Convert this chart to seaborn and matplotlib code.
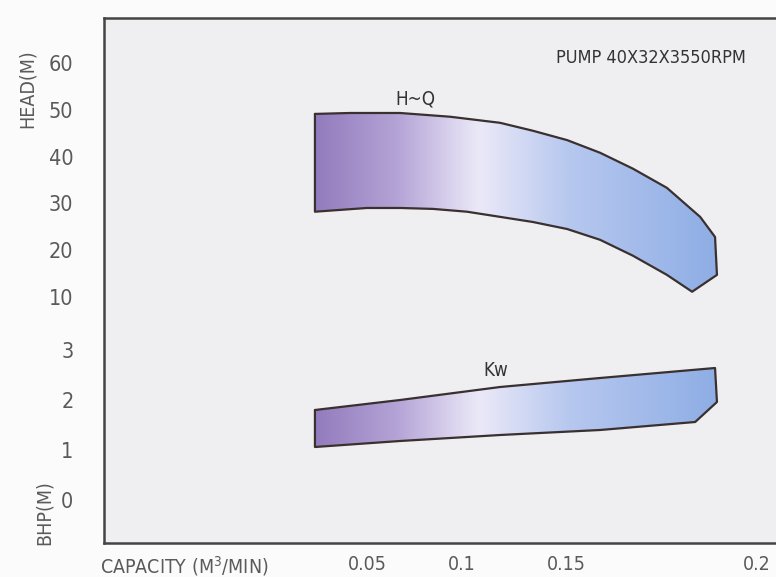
import numpy as np
import pandas as pd
import seaborn as sns
import matplotlib.pyplot as plt
from matplotlib.colors import LinearSegmentedColormap
from matplotlib.patches import Polygon

# H~Q band (capacity m3/min, head m)
hq_top_q = [0.0226, 0.0411, 0.0674, 0.0937, 0.1183, 0.1341, 0.1503, 0.1589, 0.1675, 0.1764, 0.1851, 0.1890, 0.1895]
hq_top_h = [49.1, 49.3, 49.3, 48.5, 47.2, 45.5, 43.5, 40.8, 37.4, 33.3, 27.1, 22.8, 14.7]
hq_bot_q = [0.0226, 0.05, 0.0674, 0.0847, 0.1024, 0.1183, 0.1341, 0.1503, 0.1589, 0.1675, 0.1764, 0.1830]
hq_bot_h = [28.2, 29.0, 29.0, 28.8, 28.2, 27.1, 26.0, 24.5, 22.2, 18.8, 14.7, 11.1]

# Kw band (capacity, kW)
kw_top_q = [0.0226, 0.0674, 0.1183, 0.1589, 0.1890, 0.1895]
kw_top_p = [1.80, 2.00, 2.26, 2.44, 2.64, 1.96]
kw_bot_q = [0.0226, 0.0674, 0.1183, 0.1589, 0.1838]
kw_bot_p = [1.06, 1.18, 1.30, 1.40, 1.56]

x_ticks = [0.05, 0.1, 0.15, 0.2]
x_labels = ['0.05', '0.1', '0.15', '0.2']
head_ticks = [10, 20, 30, 40, 50, 60]
kw_ticks = [0, 1, 2, 3]

sns.set_theme(style='white')
plt.rcParams['font.family'] = ['DejaVu Sans']
plt.rcParams['font.stretch'] = 'condensed'

txt = '#5a5a5a'
edge = '#3a3030'
grad = LinearSegmentedColormap.from_list(
    'band', ['#937cbd', '#b4a3d6', '#ebe9f8', '#b7c8ef', '#8aabe4'])

# the printed capacity axis is not evenly spaced, follow it piecewise
qk = [-0.2, 0.05, 0.1, 0.15, 0.2, 0.4]
pk = [-108, 367, 462, 566, 757, 1521]
fwd = lambda q: np.interp(q, qk, pk)
inv = lambda p: np.interp(p, pk, qk)

fig = plt.figure(figsize=(7.76, 5.77), dpi=100, facecolor='#fbfbfb')
ax = fig.add_axes([104 / 776, 34 / 577, 676 / 776, 525 / 577])
ax.set_facecolor('#efeff1')
ax.set_xscale('function', functions=(fwd, inv))

ax2 = ax.twinx()


def band(a, tq, tv, bq, bv):
    q = list(tq) + list(bq[::-1]) + [tq[0]]
    v = list(tv) + list(bv[::-1]) + [tv[0]]
    poly = Polygon(np.column_stack([q, v]), closed=True, facecolor='none',
                   edgecolor='none', transform=a.transData)
    a.add_patch(poly)
    im = a.imshow(np.linspace(0, 1, 256)[None, :], cmap=grad, aspect='auto',
                  extent=[min(q), max(q) + 0.004, min(v), max(v)],
                  interpolation='bilinear', zorder=2)
    im.set_clip_path(poly)
    df = pd.DataFrame({'q': q, 'v': v})
    sns.lineplot(data=df, x='q', y='v', sort=False, estimator=None, ax=a,
                 color=edge, linewidth=1.6, zorder=3)


band(ax, hq_top_q, hq_top_h, hq_bot_q, hq_bot_h)
band(ax2, kw_top_q, kw_top_p, kw_bot_q, kw_bot_p)

ax.set_xlim(-0.0884, 0.2060)
ax.set_ylim(-42.6, 69.6)
ax2.set_ylim(-0.86, 9.64)

ax.set_xticks(x_ticks)
ax.set_xticklabels(x_labels)
ax.set_yticks(head_ticks)
ax.set_yticklabels([str(t) for t in head_ticks])
ax2.yaxis.tick_left()
ax2.set_yticks(kw_ticks)
ax2.set_yticklabels([str(t) for t in kw_ticks])
for a in (ax, ax2):
    a.tick_params(axis='y', length=0, labelsize=15.5, colors=txt, pad=22)
    a.tick_params(axis='x', length=0, labelsize=14, colors=txt, pad=9)
    a.set_xlabel('')
    a.set_ylabel('')

for name in ['left', 'top', 'bottom']:
    ax.spines[name].set_color('#444444')
    ax.spines[name].set_linewidth(1.8)
ax.spines['right'].set_visible(False)
for s in ax2.spines.values():
    s.set_visible(False)

fig.text(27 / 776, 1 - 89 / 577, 'HEAD(M)', rotation=90, ha='center', va='center',
         fontsize=14, color=txt)
fig.text(44 / 776, 1 - 513 / 577, 'BHP(M)', rotation=90, ha='center', va='center',
         fontsize=14, color=txt)
fig.text(100 / 776, 1 - 566 / 577, 'CAPACITY (M$^3$/MIN)', ha='left', va='center',
         fontsize=14, color=txt)
fig.text(651 / 776, 1 - 58 / 577, 'PUMP 40X32X3550RPM', ha='center', va='center',
         fontsize=13, color='#333333')
fig.text(415 / 776, 1 - 99 / 577, 'H~Q', ha='center', va='center',
         fontsize=13.5, color='#333333')
fig.text(496 / 776, 1 - 371 / 577, 'Kw', ha='center', va='center',
         fontsize=13.5, color='#333333')

fig.savefig('out.png', dpi=100, facecolor=fig.get_facecolor())
